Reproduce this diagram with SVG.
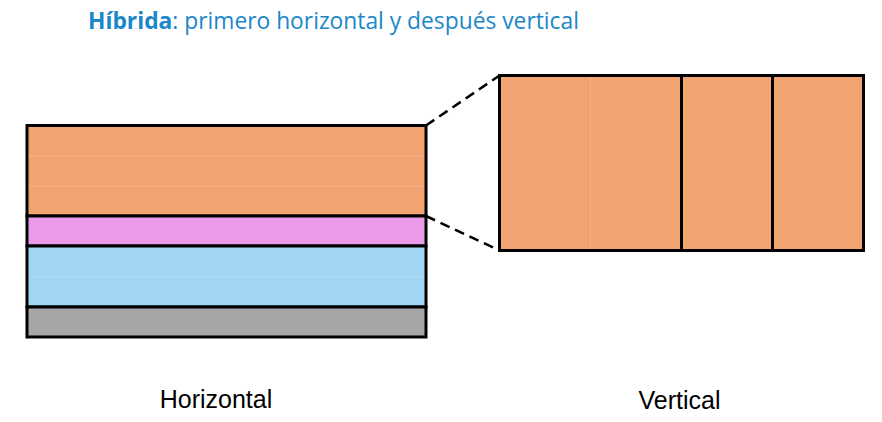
<svg xmlns="http://www.w3.org/2000/svg" width="882" height="422" viewBox="0 0 882 422">
<style>
.title{font-family:"Open Sans","Noto Sans",sans-serif;font-size:22.8px;fill:#1B87C9}
.lbl{font-family:"Liberation Sans",Arial,sans-serif;font-size:25px;fill:#000}
.box{stroke:#000;stroke-width:3}
.faint{stroke:#fff;stroke-opacity:0.18;stroke-width:1}
.dash{stroke:#000;stroke-width:2.5;stroke-dasharray:10,6;fill:none}
</style>
<rect width="882" height="422" fill="#fff"/>
<text class="title" x="88" y="29"><tspan font-weight="bold">Híbrida</tspan>: primero horizontal y después vertical</text>
<g id="horizontal">
<rect class="box" x="27" y="125.5" width="399" height="90.5" fill="#F2A372"/>
<line class="faint" x1="28.5" y1="156" x2="424.5" y2="156"/>
<line class="faint" x1="28.5" y1="186" x2="424.5" y2="186"/>
<rect class="box" x="27" y="216" width="399" height="30" fill="#EB9AEA"/>
<rect class="box" x="27" y="246" width="399" height="61" fill="#A2D5F1"/>
<line class="faint" x1="28.5" y1="277" x2="424.5" y2="277"/>
<rect class="box" x="27" y="307" width="399" height="30" fill="#A6A6A6"/>
</g>
<g id="vertical">
<rect class="box" x="499.5" y="75.5" width="364" height="175" fill="#F2A372"/>
<line class="faint" x1="590.5" y1="77" x2="590.5" y2="249"/>
<line class="box" x1="681.5" y1="75.5" x2="681.5" y2="250.5"/>
<line class="box" x1="772.5" y1="75.5" x2="772.5" y2="250.5"/>
</g>
<g id="connectors">
<line class="dash" x1="426" y1="125.5" x2="499.5" y2="75.5"/>
<line class="dash" x1="426" y1="216" x2="499.5" y2="250.5"/>
</g>
<text class="lbl" x="216" y="408" text-anchor="middle">Horizontal</text>
<text class="lbl" x="679.5" y="409" text-anchor="middle">Vertical</text>
</svg>
